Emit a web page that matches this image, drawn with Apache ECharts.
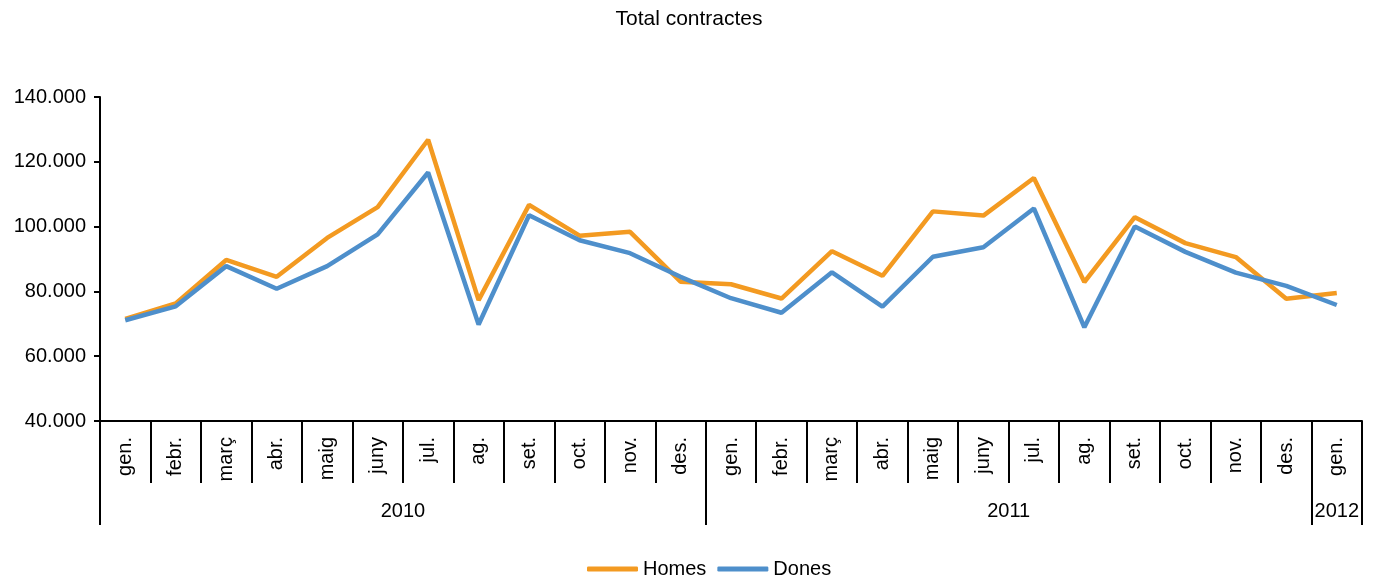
<!DOCTYPE html>
<html>
<head>
<meta charset="utf-8">
<script src="https://cdn.jsdelivr.net/npm/echarts@6/dist/echarts.min.js"></script>
<style>
html,body{margin:0;padding:0;background:#fff;}
#chart{width:1378px;height:583px;}
</style>
</head>
<body>
<div id="chart"></div>
<script>
const months = ['gen.','febr.','març','abr.','maig','juny','jul.','ag.','set.','oct.','nov.','des.',
                'gen.','febr.','març','abr.','maig','juny','jul.','ag.','set.','oct.','nov.','des.',
                'gen.'];
const years = ['2010','2011','2012'];
const monthsPerYear = [12,12,1];
const homes = [71500,76300,89700,84500,96500,106000,126800,77300,106700,97200,98400,83000,
               82200,77800,92400,84800,104700,103400,115000,82900,102900,94900,90600,77700,
               79500];
const dones = [71100,75400,87800,80800,87800,97600,116700,69800,103500,95800,91800,84500,
               77900,73400,85900,75300,90700,93600,105600,68900,100000,92200,85800,81700,
               75800];
const yMin = 40000, yMax = 140000, yStep = 20000;

// year group boundaries and centres (in category units)
const yearBounds = [0];
const yearCenters = [];
monthsPerYear.forEach(function(n){
  const start = yearBounds[yearBounds.length-1];
  yearCenters.push(start + n/2);
  yearBounds.push(start + n);
});

function fmtThousands(v){
  return String(v).replace(/\B(?=(\d{3})+(?!\d))/g, '.');
}

const FONT = 'Liberation Sans, Arial, sans-serif';
const chart = echarts.init(document.getElementById('chart'));
chart.setOption({
  animation: false,
  backgroundColor: '#fff',
  title: {
    text: 'Total contractes',
    left: 'center',
    top: 9,
    padding: 0,
    textStyle: {fontFamily: FONT, fontSize: 21, fontWeight: 'normal', color: '#000'}
  },
  legend: {
    left: 587,
    top: 559,
    itemWidth: 51,
    itemHeight: 5,
    itemGap: 11,
    icon: 'roundRect',
    padding: 0,
    textStyle: {fontFamily: FONT, fontSize: 20, color: '#000'},
    data: ['Homes','Dones']
  },
  grid: {left: 100, right: 16, top: 97, bottom: 162, containLabel: false, outerBoundsMode: 'none'},
  xAxis: [
    {
      type: 'category',
      data: months,
      position: 'bottom',
      boundaryGap: true,
      axisLine: {onZero: false, lineStyle: {color: '#000', width: 2}},
      axisTick: {show: true, interval: 0, length: 62, lineStyle: {color: '#000', width: 2}},
      axisLabel: {interval: 0, rotate: 90, margin: 16, fontFamily: FONT, fontSize: 20, color: '#000'},
      splitLine: {show: false}
    },
    {
      type: 'value',
      position: 'bottom',
      min: 0,
      max: yearBounds[yearBounds.length-1],
      axisLine: {show: false, onZero: false},
      axisTick: {show: true, customValues: yearBounds, length: 104, lineStyle: {color: '#000', width: 2}},
      axisLabel: {
        show: true,
        customValues: yearCenters,
        margin: 80,
        fontFamily: FONT, fontSize: 20, color: '#000',
        formatter: function(v){ const i = yearCenters.indexOf(v); return i >= 0 ? years[i] : ''; }
      },
      splitLine: {show: false}
    }
  ],
  yAxis: {
    type: 'value',
    min: yMin,
    max: yMax,
    interval: yStep,
    axisLine: {show: true, lineStyle: {color: '#000', width: 2}},
    axisTick: {show: true, length: 6, lineStyle: {color: '#000', width: 2}},
    axisLabel: {margin: 14, fontFamily: FONT, fontSize: 20, color: '#000', formatter: fmtThousands},
    splitLine: {show: false}
  },
  series: [
    {
      name: 'Homes', type: 'line', data: homes, symbol: 'none',
      itemStyle: {color: '#F39A21'},
      lineStyle: {color: '#F39A21', width: 4.5}
    },
    {
      name: 'Dones', type: 'line', data: dones, symbol: 'none',
      itemStyle: {color: '#4E8FCB'},
      lineStyle: {color: '#4E8FCB', width: 4.5}
    }
  ]
});
</script>
</body>
</html>
